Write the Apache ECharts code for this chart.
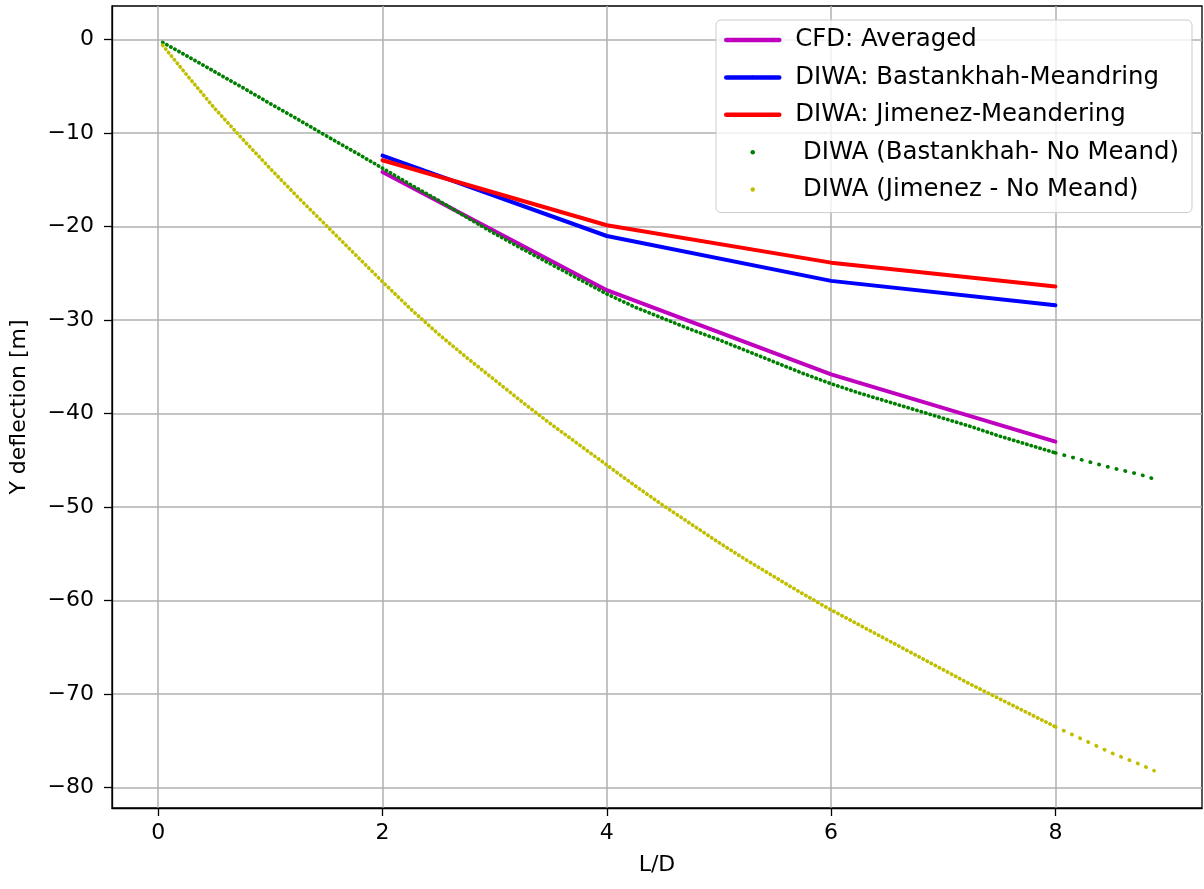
<!DOCTYPE html>
<html><head><meta charset="utf-8">
<script src="https://cdn.jsdelivr.net/npm/echarts@6/dist/echarts.min.js"></script>
<style>html,body{margin:0;padding:0;background:#fff}#c{width:1204px;height:889px}</style>
</head><body><div id="c"></div>
<script>
// ---- data ----
const cfdLD = [2, 4, 6, 8];
const cfdAveraged = [-14.15, -26.8, -35.8, -43.0];
const bastMeandLD = [2, 4, 6, 8];
const bastMeand = [-12.4, -21.0, -25.8, -28.4];
const jimMeandLD = [2, 4, 6, 8];
const jimMeand = [-12.9, -19.85, -23.85, -26.4];

const noMeandLD = [0.04, 0.25, 0.5, 0.75, 1.0, 1.25, 1.5, 1.75, 2.0, 2.25, 2.5, 2.75, 3.0,
  3.25, 3.5, 3.75, 4.0, 4.25, 4.5, 4.75, 5.0, 5.25, 5.5, 5.75, 6.0, 6.25, 6.5, 6.75, 7.0,
  7.25, 7.5, 7.75, 8.0];
const bastNoMeand = [-0.3, -1.7, -3.4, -5.1, -6.85, -8.55, -10.3, -12.0, -13.75, -15.5, -17.2,
  -19.0, -20.75, -22.4, -24.0, -25.6, -27.2, -28.6, -29.8, -31.0, -32.1, -33.3, -34.5, -35.7,
  -36.8, -37.8, -38.7, -39.6, -40.5, -41.4, -42.4, -43.3, -44.2];
const jimNoMeand = [-0.6, -3.7, -7.3, -10.6, -13.8, -16.9, -19.9, -22.9, -25.9, -28.8, -31.5,
  -34.0, -36.4, -38.8, -41.1, -43.3, -45.5, -47.7, -49.8, -51.8, -53.8, -55.7, -57.5, -59.3,
  -61.0, -62.6, -64.2, -65.8, -67.4, -69.0, -70.5, -72.0, -73.5];
const tailLD = [8.0, 8.25, 8.5, 8.75, 8.88];
const bastNoMeandTail = [-44.2, -45.0, -45.8, -46.5, -47.0];
const jimNoMeandTail = [-73.5, -74.9, -76.3, -77.5, -78.2];

const xTicks = [0, 2, 4, 6, 8];
const yTicks = [-80, -70, -60, -50, -40, -30, -20, -10, 0];

const names = ['CFD: Averaged', 'DIWA: Bastankhah-Meandring', 'DIWA: Jimenez-Meandering',
  ' DIWA (Bastankhah- No Meand)', ' DIWA (Jimenez - No Meand)'];
const colors = ['#bf00bf', '#0000ff', '#ff0000', '#008000', '#bfbf00'];

// ---- build ----
const zip = (xs, ys) => xs.map((x, i) => [x, ys[i]]);
const FONT = 'DejaVu Sans';
const fmt = v => (v < 0 ? '\u2212' + Math.abs(v) : String(v));

function solid(name, color, xs, ys) {
  return { name, type: 'line', data: zip(xs, ys), symbol: 'none', color,
    lineStyle: { color, width: 4, cap: 'round', join: 'round' }, silent: true };
}
function dotted(name, color, xs, ys, gap) {
  return { name, type: 'line', data: zip(xs, ys), symbol: 'none', color,
    itemStyle: { color },
    lineStyle: { color, width: 3.7, type: [0.4, gap], cap: 'round' }, silent: true };
}

const chart = echarts.init(document.getElementById('c'), null, { renderer: 'canvas' });
chart.setOption({
  animation: false,
  backgroundColor: '#fff',
  grid: { left: 112, top: 6, width: 1090, height: 802, show: true,
    borderColor: '#000', borderWidth: 1.3, backgroundColor: 'transparent', containLabel: false },
  xAxis: {
    type: 'value', min: -0.412, max: 9.307,
    name: 'L/D', nameLocation: 'middle', nameGap: 46,
    nameTextStyle: { fontFamily: FONT, fontSize: 22, color: '#000' },
    axisLine: { show: true, onZero: false, lineStyle: { color: '#000', width: 1.3 } },
    axisTick: { show: true, length: 8, customValues: xTicks, lineStyle: { color: '#000', width: 1.3 } },
    axisLabel: { customValues: xTicks, margin: 14, fontFamily: FONT, fontSize: 22, color: '#000', formatter: fmt },
    splitLine: { show: true, lineStyle: { color: '#b0b0b0', width: 1.5 } }
  },
  yAxis: {
    type: 'value', min: -82.19, max: 3.605,
    name: 'Y deflection [m]', nameLocation: 'middle', nameGap: 82,
    nameTextStyle: { fontFamily: FONT, fontSize: 22, color: '#000' },
    axisLine: { show: true, onZero: false, lineStyle: { color: '#000', width: 1.3 } },
    axisTick: { show: true, length: 8, customValues: yTicks, lineStyle: { color: '#000', width: 1.3 } },
    axisLabel: { customValues: yTicks, margin: 18, fontFamily: FONT, fontSize: 22, color: '#000', formatter: fmt },
    splitLine: { show: true, lineStyle: { color: '#b0b0b0', width: 1.5 } }
  },
  legend: {
    orient: 'vertical', left: 716, top: 20,
    padding: [5, 13, 8, 8], itemGap: 7.4,
    itemWidth: 53, itemHeight: 4.5,
    backgroundColor: 'rgba(255,255,255,0.8)', borderColor: '#cccccc', borderWidth: 1, borderRadius: 5,
    textStyle: { fontFamily: FONT, fontSize: 24.4, color: '#000', lineHeight: 30, padding: [0, 0, 0, 11] },
    data: [
      { name: names[0], icon: 'inherit', lineStyle: { width: 4.5, type: 'solid' } },
      { name: names[1], icon: 'inherit', lineStyle: { width: 4.5, type: 'solid' } },
      { name: names[2], icon: 'inherit', lineStyle: { width: 4.5, type: 'solid' } },
      { name: names[3], icon: 'circle' },
      { name: names[4], icon: 'circle' }
    ],
    selectedMode: false
  },
  series: [
    solid(names[0], colors[0], cfdLD, cfdAveraged),
    solid(names[1], colors[1], bastMeandLD, bastMeand),
    solid(names[2], colors[2], jimMeandLD, jimMeand),
    dotted(names[3], colors[3], noMeandLD, bastNoMeand, 4.2),
    dotted(names[3], colors[3], tailLD, bastNoMeandTail, 8.6),
    dotted(names[4], colors[4], noMeandLD, jimNoMeand, 4.2),
    dotted(names[4], colors[4], tailLD, jimNoMeandTail, 8.6)
  ]
});
</script></body></html>
